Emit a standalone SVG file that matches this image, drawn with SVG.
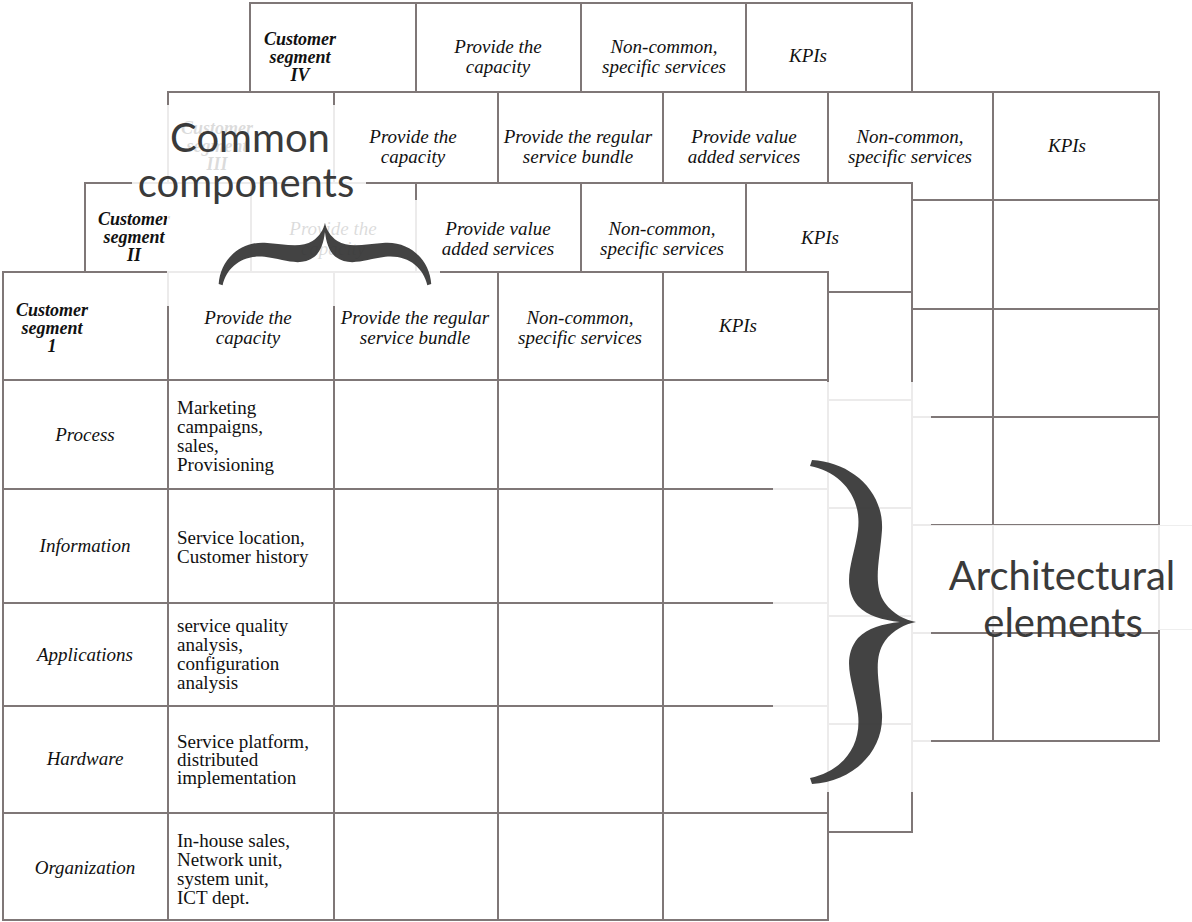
<svg xmlns="http://www.w3.org/2000/svg" width="1192" height="922" viewBox="0 0 1192 922">
<defs>
<style>
.tb{fill:#fff;stroke:#7f7777;stroke-width:2}
.ln{fill:none;stroke:#7f7777;stroke-width:2}
.h{font-family:"Liberation Serif",serif;font-style:italic;font-size:19px;fill:#111;text-anchor:middle}
.seg{font-family:"Liberation Serif",serif;font-style:italic;font-weight:bold;font-size:18px;fill:#111;text-anchor:middle}
.d{font-family:"Liberation Serif",serif;font-size:19px;fill:#111}
.big{font-family:Lato,"Open Sans",sans-serif;font-size:40px;fill:#3a3a3a;text-anchor:middle}
.veil{fill:#fff;fill-opacity:0.85}
.brace{fill:#333;fill-opacity:0.92}
.faint{fill:none;stroke:#eeeeee;stroke-width:1}
</style>
<path id="brace" d="M 0 -2 C 38 0, 72 28, 70 68 C 68 98, 60 123, 73 141 C 81 152, 93 158, 104 160 C 93 162, 81 168, 73 179 C 60 197, 68 222, 70 252 C 72 292, 38 320, 0 322 L -2 316 C 28 310, 50 286, 46 252 C 42 222, 28 198, 46 176 C 56 166, 70 162, 88 160 C 70 158, 56 154, 46 144 C 28 122, 42 98, 46 68 C 50 34, 28 10, -2 4 Z"/>
</defs>

<g id="segment-IV">
<rect class="tb" x="250" y="3" width="662" height="648"/>
<path class="ln" d="M416 3V651M581 3V651M746 3V651M250 111H912M250 219H912M250 327H912M250 435H912M250 543H912"/>
<text class="seg" x="300"><tspan x="300" y="45">Customer</tspan><tspan x="300" y="63">segment</tspan><tspan x="300" y="81">IV</tspan></text>
<text class="h"><tspan x="498" y="53">Provide the</tspan><tspan x="498" y="73">capacity</tspan></text>
<text class="h"><tspan x="664" y="53">Non-common,</tspan><tspan x="664" y="73">specific services</tspan></text>
<text class="h" x="808" y="62">KPIs</text>
</g>

<g id="segment-III">
<rect class="tb" x="168" y="92" width="991" height="649"/>
<path class="ln" d="M334 92V741M498 92V741M663 92V741M828 92V741M993 92V741M168 200H1159M168 309H1159M168 417H1159M168 525H1159M168 633H1159"/>
<text class="seg"><tspan x="217" y="134">Customer</tspan><tspan x="217" y="152">segment</tspan><tspan x="217" y="170">III</tspan></text>
<text class="h"><tspan x="413" y="143">Provide the</tspan><tspan x="413" y="163">capacity</tspan></text>
<text class="h"><tspan x="578" y="143">Provide the regular</tspan><tspan x="578" y="163">service bundle</tspan></text>
<text class="h"><tspan x="744" y="143">Provide value</tspan><tspan x="744" y="163">added services</tspan></text>
<text class="h"><tspan x="910" y="143">Non-common,</tspan><tspan x="910" y="163">specific services</tspan></text>
<text class="h" x="1067" y="152">KPIs</text>
</g>

<g id="segment-II">
<rect class="tb" x="85" y="183" width="827" height="649"/>
<path class="ln" d="M251 183V832M416 183V832M581 183V832M746 183V832M85 292H912M85 400H912M85 508H912M85 616H912M85 724H912"/>
<text class="seg"><tspan x="134" y="225">Customer</tspan><tspan x="134" y="243">segment</tspan><tspan x="134" y="261">II</tspan></text>
<text class="h"><tspan x="333" y="235">Provide the</tspan><tspan x="333" y="255">capacity</tspan></text>
<text class="h"><tspan x="498" y="235">Provide value</tspan><tspan x="498" y="255">added services</tspan></text>
<text class="h"><tspan x="662" y="235">Non-common,</tspan><tspan x="662" y="255">specific services</tspan></text>
<text class="h" x="820" y="244">KPIs</text>
</g>

<g id="segment-I">
<rect class="tb" x="3" y="272" width="825" height="648"/>
<path class="ln" d="M168 272V920M334 272V920M498 272V920M663 272V920M3 380H828M3 489H828M3 603H828M3 706H828M3 813H828"/>
<text class="seg"><tspan x="52" y="316">Customer</tspan><tspan x="52" y="334">segment</tspan><tspan x="52" y="352">1</tspan></text>
<text class="h"><tspan x="248" y="324">Provide the</tspan><tspan x="248" y="344">capacity</tspan></text>
<text class="h"><tspan x="415" y="324">Provide the regular</tspan><tspan x="415" y="344">service bundle</tspan></text>
<text class="h"><tspan x="580" y="324">Non-common,</tspan><tspan x="580" y="344">specific services</tspan></text>
<text class="h" x="738" y="332">KPIs</text>
<text class="h" x="85" y="441">Process</text>
<text class="h" x="85" y="552">Information</text>
<text class="h" x="85" y="661">Applications</text>
<text class="h" x="85" y="765">Hardware</text>
<text class="h" x="85" y="874">Organization</text>
<text class="d"><tspan x="177" y="414">Marketing</tspan><tspan x="177" y="433">campaigns,</tspan><tspan x="177" y="452">sales,</tspan><tspan x="177" y="471">Provisioning</tspan></text>
<text class="d"><tspan x="177" y="544">Service location,</tspan><tspan x="177" y="563">Customer history</tspan></text>
<text class="d"><tspan x="177" y="632">service quality</tspan><tspan x="177" y="651">analysis,</tspan><tspan x="177" y="670">configuration</tspan><tspan x="177" y="689">analysis</tspan></text>
<text class="d"><tspan x="177" y="748">Service platform,</tspan><tspan x="177" y="766">distributed</tspan><tspan x="177" y="784">implementation</tspan></text>
<text class="d"><tspan x="177" y="847">In-house sales,</tspan><tspan x="177" y="866">Network unit,</tspan><tspan x="177" y="885">system unit,</tspan><tspan x="177" y="904">ICT dept.</tspan></text>
</g>

<g id="common-components">
<rect class="veil" x="132" y="105" width="234" height="95"/>
<rect class="veil" x="167" y="200" width="273" height="106"/>
<text class="big"><tspan x="250" y="152">Common</tspan><tspan x="246" y="197">components</tspan></text>
<use href="#brace" class="brace" transform="translate(220,284) scale(0.656,0.59) rotate(-90)"/>
</g>

<g id="architectural-elements">
<rect class="veil" x="773" y="382" width="158" height="410"/>
<rect class="veil" x="931" y="525" width="261" height="105"/>
<path class="faint" d="M1160 525.5H1192M1160 629.5H1192"/>
<use href="#brace" class="brace" transform="translate(812,462)"/>
<text class="big"><tspan x="1062" y="590">Architectural</tspan><tspan x="1063" y="637">elements</tspan></text>
</g>

<g id="connectors"></g>
</svg>
